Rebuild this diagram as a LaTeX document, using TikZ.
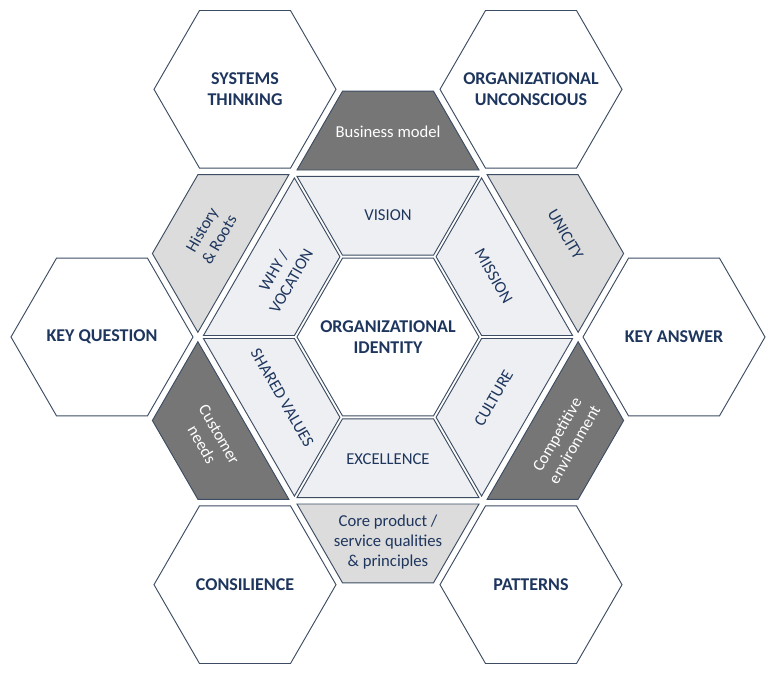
\documentclass[tikz,border=0pt]{standalone}
\usepackage{fontspec}
\setmainfont{Carlito}
\definecolor{edgeblue}{RGB}{60, 76, 98}
\definecolor{textblue}{RGB}{30, 54, 94}
\definecolor{ringgray}{RGB}{238, 239, 242}
\definecolor{lightgray1}{RGB}{220, 220, 220}
\definecolor{darkgray1}{RGB}{118, 118, 118}
\usepackage{tikz}
\usetikzlibrary{shapes.geometric}

\begin{document}
\begin{tikzpicture}[x=0.75pt, y=0.75pt,
  hexbox/.style={regular polygon, regular polygon sides=6, draw=edgeblue, line width=0.7pt, fill=white, minimum size=136.5pt, inner sep=0pt},
  title/.style={align=center, text=textblue, font=\bfseries\fontsize{13.5}{15.5}\selectfont},
  piece/.style={draw=edgeblue, line width=0.7pt},
  lbl/.style={align=center, text=textblue, font=\fontsize{12.5}{15}\selectfont},
  wlbl/.style={lbl, text=white}
]
  \useasboundingbox (-388,-339) rectangle (389,337);
  % inner ring
  \foreach \r in {0,60,...,300}
    \draw[piece, fill=ringgray, rotate=\r] (-45.5,81.8) -- (45.5,81.8) -- (91,160.6) -- (-91,160.6) -- cycle;
  % outer half hexagons
  \foreach \r/\c in {0/darkgray1, 60/lightgray1, 120/darkgray1, 180/lightgray1, 240/darkgray1, 300/lightgray1}
    \draw[piece, fill=\c, rotate=\r] (-91,167) -- (91,167) -- (45.5,245.8) -- (-45.5,245.8) -- cycle;

  \node[hexbox] (identity) at (0,0) {};
  \node[hexbox] (answer) at (0:286) {};
  \node[hexbox] (unconscious) at (60:286) {};
  \node[hexbox] (systems) at (120:286) {};
  \node[hexbox] (question) at (180:286) {};
  \node[hexbox] (consilience) at (240:286) {};
  \node[hexbox] (patterns) at (300:286) {};

  \node[title] (identitytxt) at (identity) {ORGANIZATIONAL\\IDENTITY};
  \node[title] (answertxt) at (answer) {KEY ANSWER};
  \node[title] (unconscioustxt) at (unconscious) {ORGANIZATIONAL\\UNCONSCIOUS};
  \node[title] (systemstxt) at (systems) {SYSTEMS\\THINKING};
  \node[title] (questiontxt) at (question) {KEY QUESTION};
  \node[title] (consiliencetxt) at (consilience) {CONSILIENCE};
  \node[title] (patternstxt) at (patterns) {PATTERNS};

  \node[lbl] (vision) at (90:122) {VISION};
  \node[lbl, rotate=-60] (mission) at (30:122) {MISSION};
  \node[lbl, rotate=60] (culture) at (-30:122) {CULTURE};
  \node[lbl] (excellence) at (-90:122) {EXCELLENCE};
  \node[lbl, rotate=-60] (values) at (-150:122) {SHARED VALUES};
  \node[lbl, rotate=60] (why) at (150:122) {WHY /\\VOCATION};

  \node[wlbl] (business) at (90:205) {Business model};
  \node[lbl, rotate=-60] (unicity) at (30:205) {UNICITY};
  \node[wlbl, rotate=60] (competitive) at (-30:205) {Competitive\\environment};
  \node[lbl] (core) at (-90:205) {Core product /\\service qualities\\\& principles};
  \node[wlbl, rotate=-60] (customer) at (-150:205) {Customer\\needs};
  \node[lbl, rotate=60] (history) at (150:205) {History\\\& Roots};
\end{tikzpicture}
\end{document}
